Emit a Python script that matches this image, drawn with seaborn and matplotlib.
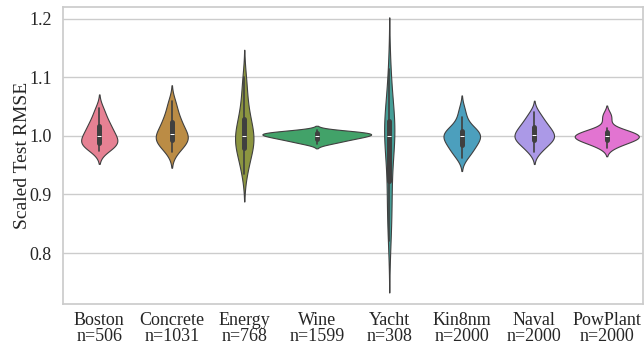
import matplotlib
matplotlib.use('Agg')
import matplotlib.pyplot as plt
import numpy as np
import pandas as pd
import seaborn as sns

# dataset names and sizes shown under each violin
datasets = ['Boston', 'Concrete', 'Energy', 'Wine', 'Yacht', 'Kin8nm', 'Naval', 'PowPlant']
sizes = [506, 1031, 768, 1599, 308, 2000, 2000, 2000]

# scaled test RMSE per split (20 splits each)
boston = [0.975, 0.979, 0.982, 0.984, 0.986, 0.988, 0.990, 0.992, 0.995, 0.999,
          1.001, 1.004, 1.008, 1.012, 1.016, 1.020, 1.024, 1.031, 1.039, 1.048]
concrete = [0.972, 0.978, 0.983, 0.987, 0.990, 0.993, 0.995, 0.997, 0.999, 1.001,
            1.004, 1.008, 1.013, 1.018, 1.022, 1.026, 1.032, 1.040, 1.050, 1.060]
energy = [0.935, 0.948, 0.960, 0.970, 0.977, 0.981, 0.985, 0.990, 0.995, 0.998,
          1.002, 1.006, 1.012, 1.020, 1.028, 1.034, 1.046, 1.062, 1.080, 1.100]
wine = [0.986, 0.989, 0.991, 0.993, 0.994, 0.996, 0.997, 0.998, 0.999, 1.000,
        1.001, 1.002, 1.003, 1.004, 1.004, 1.005, 1.006, 1.007, 1.008, 1.010]
yacht = [0.820, 0.848, 0.870, 0.890, 0.905, 0.930, 0.960, 0.980, 0.990, 1.000,
         1.000, 1.005, 1.010, 1.020, 1.025, 1.029, 1.040, 1.060, 1.088, 1.115]
kin8nm = [0.963, 0.969, 0.974, 0.978, 0.982, 0.986, 0.989, 0.992, 0.995, 0.998,
          1.000, 1.002, 1.004, 1.006, 1.008, 1.011, 1.015, 1.022, 1.033, 1.046]
naval = [0.972, 0.978, 0.983, 0.987, 0.990, 0.993, 0.995, 0.997, 0.999, 1.001,
         1.003, 1.006, 1.009, 1.012, 1.015, 1.018, 1.022, 1.027, 1.033, 1.040]
powplant = [0.980, 0.985, 0.988, 0.990, 0.992, 0.994, 0.995, 0.997, 0.998, 0.999,
            1.000, 1.001, 1.003, 1.004, 1.006, 1.008, 1.010, 1.013, 1.027, 1.037]

values = [boston, concrete, energy, wine, yacht, kin8nm, naval, powplant]
labels = ['%s\nn=%d' % (d, n) for d, n in zip(datasets, sizes)]

df = pd.DataFrame({
    'dataset': np.repeat(labels, [len(v) for v in values]),
    'rmse': np.concatenate(values),
})

sns.set_theme(style='whitegrid')
plt.rcParams['font.family'] = ['Liberation Serif', 'DejaVu Serif']

fig = plt.figure(figsize=(6.44, 3.5), dpi=100)
ax = fig.add_axes([63 / 644, 46 / 350, 580 / 644, 297 / 350])
sns.violinplot(data=df, x='dataset', y='rmse', hue='dataset', palette='husl',
               order=labels, density_norm='area', common_norm=True, width=1.5,
               inner='box', cut=2, linewidth=0.8, legend=False, ax=ax)
ax.set_ylim(0.713, 1.22)
ax.set_xlim(-0.5, 7.5)
ax.set_yticks([0.8, 0.9, 1.0, 1.1, 1.2])
ax.set_xlabel('')
ax.set_ylabel('Scaled Test RMSE', fontsize=14, labelpad=-1)
ax.tick_params(axis='y', labelsize=13, pad=2)
ax.tick_params(axis='x', labelsize=13, pad=0)
for t in ax.get_xticklabels():
    t.set_linespacing(0.9)

fig.savefig('out.png', dpi=100)
